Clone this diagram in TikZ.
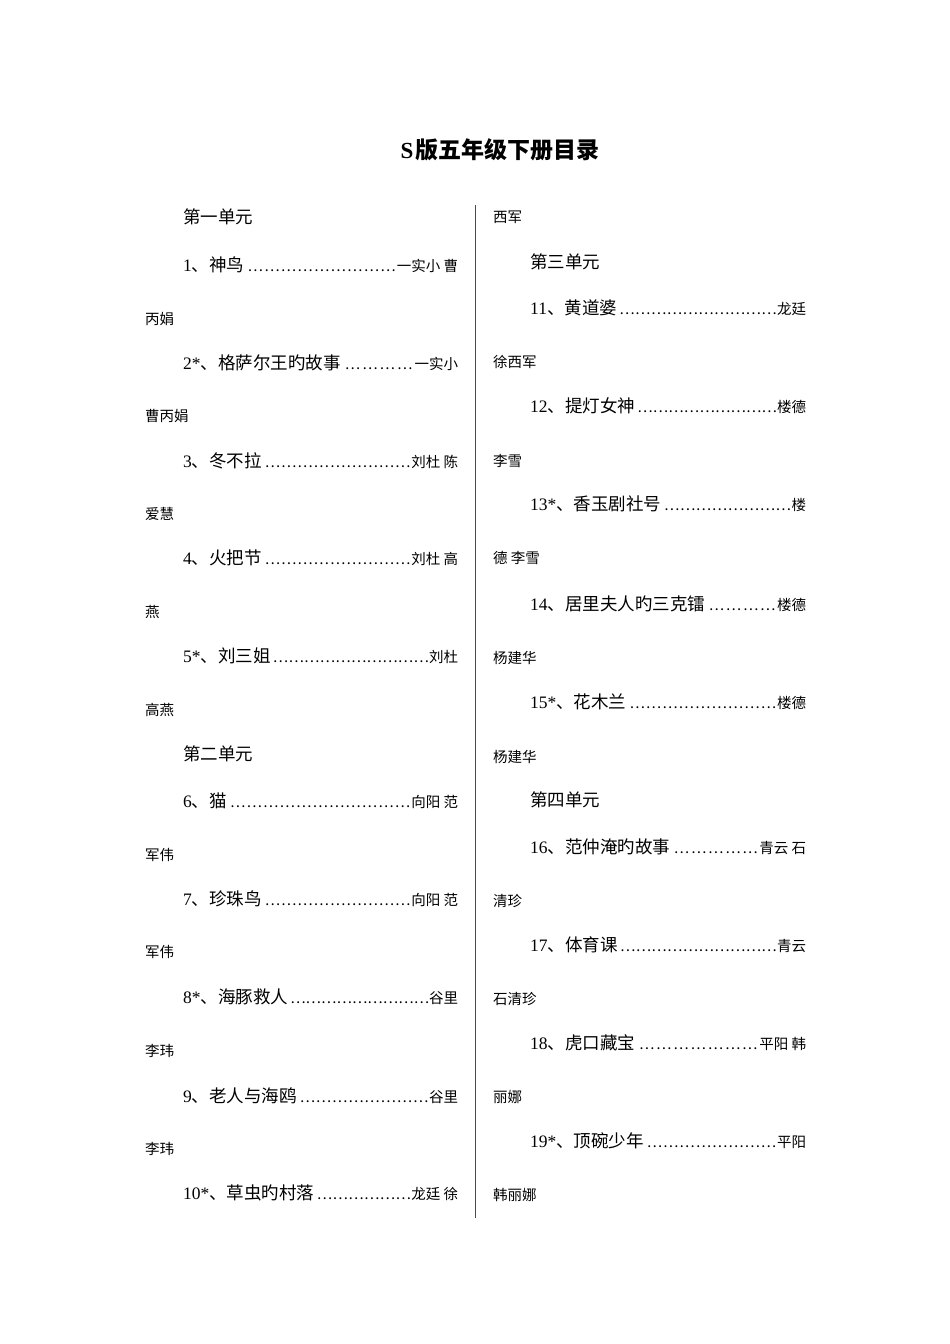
\documentclass[tikz,border=0pt]{standalone}
\usepackage{fontspec}
\setmainfont{Liberation Serif}
\newfontfamily\cjk{Noto Sans CJK SC}
\newcommand\bigsz{\fontsize{17.5}{20}\selectfont}
\newcommand\smsz{\fontsize{14.5}{17}\selectfont}
% name, x, y(base), width, title, author
\newcommand\entry[6]{\node[anchor=base west,inner sep=0] (#1) at (#2,-#3) {\hbox to #4pt{\bigsz #5\kern2pt\xleaders\hbox{\smsz\cjk …}\hfill{\smsz\cjk #6}}};}
\newcommand\txt[5]{\node[anchor=base west,inner sep=0] (#1) at (#2,-#3) {#4\cjk #5};}
\begin{document}
\begin{tikzpicture}[x=1pt,y=1pt]
\useasboundingbox[fill=white] (0,0) rectangle (950,-1344);
\node[inner sep=0] (title) at (500,-150) {\fontsize{23}{26}\selectfont\bfseries S\kern2pt{\cjk 版五年级下册目录}};
\draw[line width=0.8pt,black!70] (475,-205) coordinate (vt) -- (475,-1218) coordinate (vb);
% left column
\txt{u1}{183}{223}{\bigsz}{第一单元}
\entry{e1}{183}{271}{275}{1{\cjk 、神鸟}}{一实小 曹}
\txt{a1}{145}{324}{\smsz}{丙娟}
\entry{e2}{183}{369}{275}{2*{\cjk 、格萨尔王旳故事}}{一实小}
\txt{a2}{145}{421}{\smsz}{曹丙娟}
\entry{e3}{183}{467}{275}{3{\cjk 、冬不拉}}{刘杜 陈}
\txt{a3}{145}{519}{\smsz}{爱慧}
\entry{e4}{183}{564}{275}{4{\cjk 、火把节}}{刘杜 高}
\txt{a4}{145}{617}{\smsz}{燕}
\entry{e5}{183}{662}{275}{5*{\cjk 、刘三姐}}{刘杜}
\txt{a5}{145}{715}{\smsz}{高燕}
\txt{u2}{183}{760}{\bigsz}{第二单元}
\entry{e6}{183}{807}{275}{6{\cjk 、猫}}{向阳 范}
\txt{a6}{145}{860}{\smsz}{军伟}
\entry{e7}{183}{905}{275}{7{\cjk 、珍珠鸟}}{向阳 范}
\txt{a7}{145}{957}{\smsz}{军伟}
\entry{e8}{183}{1003}{275}{8*{\cjk 、海豚救人}}{谷里}
\txt{a8}{145}{1056}{\smsz}{李玮}
\entry{e9}{183}{1102}{275}{9{\cjk 、老人与海鸥}}{谷里}
\txt{a9}{145}{1154}{\smsz}{李玮}
\entry{e10}{183}{1199}{275}{10*{\cjk 、草虫旳村落}}{龙廷 徐}
% right column
\txt{b0}{493}{222}{\smsz}{西军}
\txt{u3}{530}{268}{\bigsz}{第三单元}
\entry{e11}{530}{314}{276}{11{\cjk 、黄道婆}}{龙廷}
\txt{b11}{493}{367}{\smsz}{徐西军}
\entry{e12}{530}{412}{276}{12{\cjk 、提灯女神}}{楼德}
\txt{b12}{493}{466}{\smsz}{李雪}
\entry{e13}{530}{510}{276}{13*{\cjk 、香玉剧社号}}{楼}
\txt{b13}{493}{563}{\smsz}{德 李雪}
\entry{e14}{530}{610}{276}{14{\cjk 、居里夫人旳三克镭}}{楼德}
\txt{b14}{493}{663}{\smsz}{杨建华}
\entry{e15}{530}{708}{276}{15*{\cjk 、花木兰}}{楼德}
\txt{b15}{493}{762}{\smsz}{杨建华}
\txt{u4}{530}{806}{\bigsz}{第四单元}
\entry{e16}{530}{853}{276}{16{\cjk 、范仲淹旳故事}}{青云 石}
\txt{b16}{493}{906}{\smsz}{清珍}
\entry{e17}{530}{951}{276}{17{\cjk 、体育课}}{青云}
\txt{b17}{493}{1004}{\smsz}{石清珍}
\entry{e18}{530}{1049}{276}{18{\cjk 、虎口藏宝}}{平阳 韩}
\txt{b18}{493}{1102}{\smsz}{丽娜}
\entry{e19}{530}{1147}{276}{19*{\cjk 、顶碗少年}}{平阳}
\txt{b19}{493}{1200}{\smsz}{韩丽娜}
\end{tikzpicture}
\end{document}
